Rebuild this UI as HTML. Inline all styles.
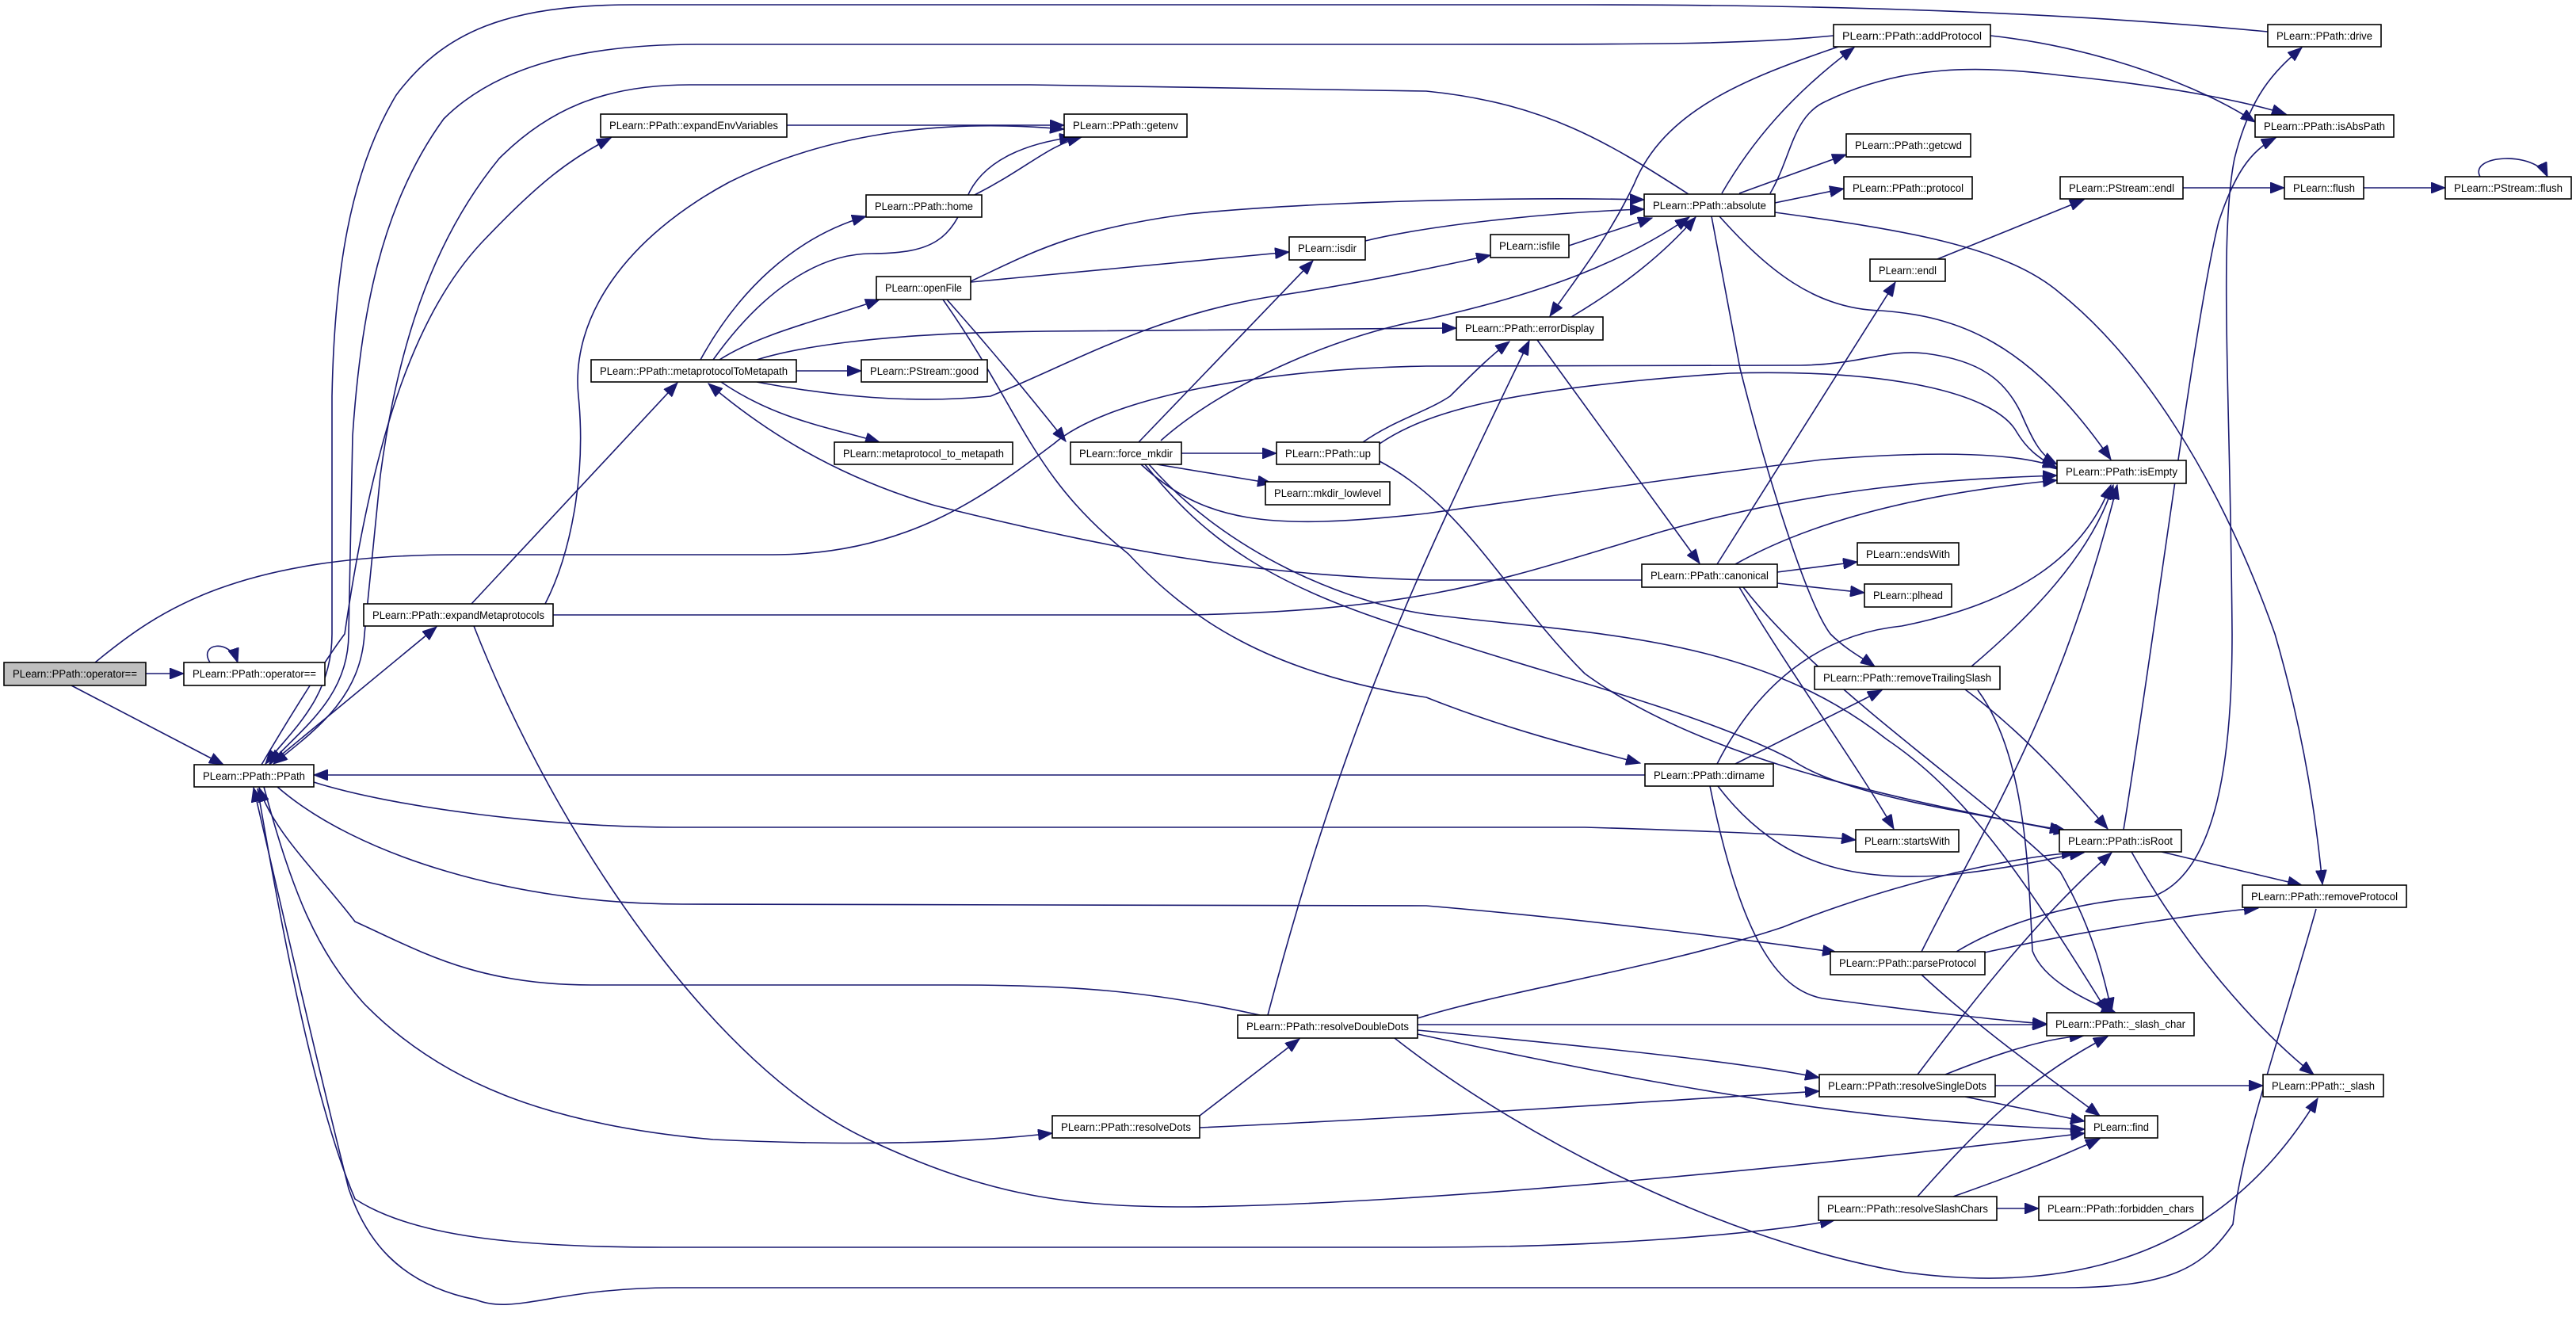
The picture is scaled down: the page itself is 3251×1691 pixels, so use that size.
<!DOCTYPE html>
<html><head><meta charset="utf-8"><style>
html,body{margin:0;padding:0;background:#fff;}
svg{display:block;}
text{font-family:"Liberation Sans",Arial,sans-serif;font-size:13.5px;fill:#000;}
.e{fill:none;stroke:#191970;stroke-width:1.6;}
rect{stroke:#000;stroke-width:1.6;fill:#fff;}
</style></head><body>
<svg width="3251" height="1691" viewBox="0 0 3251 1691" xmlns="http://www.w3.org/2000/svg">
<defs><marker id="a" markerUnits="userSpaceOnUse" markerWidth="20" markerHeight="14" refX="18" refY="7" orient="auto"><path d="M0,0 L18,7 L0,14 z" fill="#191970" stroke="#191970"/></marker></defs>
<g marker-end="url(#a)">
<path class="e" d="M184,850 L232,850"/>
<path class="e" d="M265,836 C250,812 290,805 300,836"/>
<path class="e" d="M90,865 L282,965"/>
<path class="e" d="M120,836 C200,770 300,700 580,700 L975,700 C1150,700 1250,620 1330,560 C1400,500 1600,465 1800,462 L2272,461 C2350,460 2380,440 2430,446 C2500,455 2530,480 2550,520 C2565,555 2575,575 2596,586"/>
<path class="e" d="M330,965 C380,880 420,820 435,800 C470,560 520,400 608,306 C680,230 720,200 771,174"/>
<path class="e" d="M340,965 L551,791"/>
<path class="e" d="M2862,40 C2600,15 2300,6 2000,6 L800,6 C640,6 560,40 500,120 C440,220 422,350 419,500 L419,800 C419,880 370,920 335,964"/>
<path class="e" d="M2314,45 C2200,56 2100,56 1800,56 L880,56 C720,56 620,90 560,150 C480,260 455,400 445,550 L440,800 C440,880 380,920 340,964"/>
<path class="e" d="M2131,245 C2030,180 1950,130 1800,115 L1300,107 L870,107 C760,107 690,140 630,200 C540,310 500,450 480,600 L460,800 C455,880 400,920 345,964"/>
<path class="e" d="M396,987 C500,1020 700,1044 850,1044 L2000,1044 C2200,1050 2300,1055 2342,1060"/>
<path class="e" d="M350,993 C450,1080 650,1141 861,1141 L1800,1143 C2000,1160 2200,1185 2318,1202"/>
<path class="e" d="M1590,1281 C1450,1250 1350,1243 1205,1243 L746,1243 C600,1243 530,1200 448,1163 C400,1100 345,1050 327,994"/>
<path class="e" d="M333,993 C370,1130 400,1200 459,1266 C560,1370 700,1420 900,1438 C1050,1445 1200,1445 1328,1430"/>
<path class="e" d="M325,995 C360,1200 400,1400 448,1513 C520,1560 650,1574 838,1574 L1800,1574 C2000,1574 2200,1560 2315,1540"/>
<path class="e" d="M2923,1147 C2880,1300 2830,1440 2818,1545 C2780,1600 2740,1625 2600,1625 L850,1625 C700,1625 650,1660 600,1640 C500,1620 460,1560 440,1500 C390,1300 345,1100 320,994"/>
<path class="e" d="M2076,978 L396,978"/>
<path class="e" d="M688,762 C720,700 740,600 730,500 C720,400 790,300 920,230 C1050,165 1200,150 1343,163"/>
<path class="e" d="M595,762 L855,483"/>
<path class="e" d="M698,776 L1500,776 C1800,770 1900,730 2100,670 C2300,615 2450,605 2596,600"/>
<path class="e" d="M993,158 L1343,158"/>
<path class="e" d="M884,454 C930,370 1000,300 1093,273"/>
<path class="e" d="M900,454 C960,370 1030,320 1100,320 C1180,320 1200,300 1220,250 C1240,200 1300,180 1355,173"/>
<path class="e" d="M1230,246 C1300,210 1320,185 1365,173"/>
<path class="e" d="M908,454 C960,420 1050,400 1110,378"/>
<path class="e" d="M1005,468 L1087,468"/>
<path class="e" d="M910,482 C980,530 1050,540 1110,558"/>
<path class="e" d="M955,454 C1000,440 1100,420 1322,418 L1838,414"/>
<path class="e" d="M955,482 C1050,500 1150,510 1250,500 C1350,460 1450,400 1600,375 C1700,360 1800,340 1881,322"/>
<path class="e" d="M1465,556 C1550,480 1700,420 1800,403 C1950,370 2050,330 2132,274"/>
<path class="e" d="M1437,558 L1657,329"/>
<path class="e" d="M1225,356 L1627,318"/>
<path class="e" d="M1225,355 C1300,320 1350,290 1500,270 C1650,255 1900,248 2075,252"/>
<path class="e" d="M1195,378 C1250,440 1300,500 1345,557"/>
<path class="e" d="M1190,378 C1290,520 1300,600 1424,699 C1500,780 1600,850 1800,880 C1900,920 2000,945 2070,963"/>
<path class="e" d="M1491,572 L1611,572"/>
<path class="e" d="M1460,586 L1605,610"/>
<path class="e" d="M1440,586 C1520,660 1600,670 1800,648 C2000,620 2100,605 2300,580 C2450,568 2550,572 2596,590"/>
<path class="e" d="M1445,586 C1520,680 1600,740 1800,800 C1950,850 2150,900 2260,958 C2320,1000 2450,1020 2605,1048"/>
<path class="e" d="M1450,586 C1550,700 1700,760 1800,775 C2000,800 2213,800 2381,933 C2480,1000 2550,1100 2660,1278"/>
<path class="e" d="M1720,558 C1760,530 1800,520 1830,500 C1860,470 1880,450 1905,431"/>
<path class="e" d="M1741,560 C1800,520 1900,490 2183,471 C2400,465 2520,500 2545,545 C2560,570 2575,578 2596,592"/>
<path class="e" d="M1741,582 C1850,640 1900,750 2000,850 C2150,960 2400,1010 2610,1050"/>
<path class="e" d="M2195,244 L2330,195"/>
<path class="e" d="M2240,256 L2327,238"/>
<path class="e" d="M2234,244 C2260,200 2262,150 2300,130 C2400,80 2500,83 2600,95 C2750,110 2840,130 2885,144"/>
<path class="e" d="M2173,244 C2210,180 2260,120 2340,60"/>
<path class="e" d="M2320,59 C2200,100 2100,140 2062,233 C2030,300 1990,350 1956,399"/>
<path class="e" d="M1983,400 C2050,360 2100,320 2140,274"/>
<path class="e" d="M1980,310 L2085,275"/>
<path class="e" d="M1723,304 C1800,285 1950,268 2075,264"/>
<path class="e" d="M2170,273 C2230,340 2290,390 2374,392 C2470,399 2560,430 2664,580"/>
<path class="e" d="M2240,268 C2400,290 2530,310 2600,370 C2700,450 2800,600 2871,800 C2900,900 2920,1000 2931,1116"/>
<path class="e" d="M2160,273 L2196,465 C2230,600 2280,760 2310,800 C2330,820 2350,830 2366,841"/>
<path class="e" d="M1940,429 L2145,711"/>
<path class="e" d="M2167,712 L2392,356"/>
<path class="e" d="M2445,327 L2630,252"/>
<path class="e" d="M2755,237 L2883,237"/>
<path class="e" d="M2983,237 L3086,237"/>
<path class="e" d="M3130,223 C3115,195 3200,190 3215,223"/>
<path class="e" d="M2190,712 C2300,650 2450,620 2596,606"/>
<path class="e" d="M2243,722 L2344,709"/>
<path class="e" d="M2243,736 L2353,748"/>
<path class="e" d="M2072,732 L1800,732 C1600,725 1450,705 1180,638 C1050,600 960,540 894,484"/>
<path class="e" d="M2195,741 C2260,850 2340,960 2390,1046"/>
<path class="e" d="M2200,741 C2300,870 2500,1000 2600,1100 C2640,1170 2655,1230 2665,1277"/>
<path class="e" d="M2167,964 C2220,860 2300,800 2400,790 C2550,760 2630,700 2664,612"/>
<path class="e" d="M2190,964 L2375,871"/>
<path class="e" d="M2168,992 C2250,1100 2350,1110 2450,1105 C2550,1095 2600,1080 2630,1076"/>
<path class="e" d="M2158,992 C2200,1200 2250,1250 2300,1260 C2450,1280 2550,1290 2583,1292"/>
<path class="e" d="M2488,841 C2560,780 2640,700 2667,612"/>
<path class="e" d="M2480,870 C2560,930 2620,1000 2660,1046"/>
<path class="e" d="M2496,871 C2557,953 2560,1100 2565,1200 C2580,1240 2640,1265 2670,1278"/>
<path class="e" d="M2680,1047 C2720,800 2770,400 2800,280 C2820,220 2840,190 2872,174"/>
<path class="e" d="M2728,1075 L2905,1117"/>
<path class="e" d="M2690,1075 C2760,1200 2850,1300 2920,1356"/>
<path class="e" d="M2425,1201 C2500,1050 2600,900 2672,612"/>
<path class="e" d="M2469,1201 C2520,1170 2600,1140 2718,1131 C2800,1100 2817,950 2817,800 C2815,500 2800,300 2820,200 C2840,120 2870,90 2905,60"/>
<path class="e" d="M2500,1203 C2650,1170 2800,1150 2850,1146"/>
<path class="e" d="M2425,1230 C2500,1300 2600,1370 2650,1408"/>
<path class="e" d="M2420,1356 C2500,1250 2580,1150 2665,1076"/>
<path class="e" d="M2455,1356 C2520,1330 2580,1310 2630,1307"/>
<path class="e" d="M2518,1370 L2856,1370"/>
<path class="e" d="M2480,1384 L2631,1415"/>
<path class="e" d="M1789,1300 C2000,1320 2200,1340 2296,1360"/>
<path class="e" d="M1789,1293 L2583,1293"/>
<path class="e" d="M1789,1285 C1900,1250 2100,1220 2250,1170 C2400,1110 2550,1080 2620,1076"/>
<path class="e" d="M1600,1281 C1700,900 1800,700 1930,430"/>
<path class="e" d="M1789,1305 C2000,1350 2200,1390 2400,1410 C2500,1420 2600,1425 2631,1425"/>
<path class="e" d="M1760,1310 C1900,1420 2150,1560 2400,1605 C2650,1640 2820,1560 2925,1386"/>
<path class="e" d="M1514,1408 L1640,1311"/>
<path class="e" d="M1514,1423 C1800,1410 2000,1395 2296,1377"/>
<path class="e" d="M2420,1510 C2500,1420 2560,1360 2660,1308"/>
<path class="e" d="M2465,1510 C2550,1480 2600,1460 2650,1437"/>
<path class="e" d="M2520,1525 L2573,1525"/>
<path class="e" d="M598,790 C700,1050 900,1350 1100,1440 C1250,1510 1350,1523 1500,1523 C1800,1520 2300,1470 2631,1430"/>
<path class="e" d="M2512,45 C2650,60 2780,110 2846,154"/>
</g>
<g>
<rect x="5" y="836" width="179" height="29" style="fill:#bfbfbf"/><text x="94.5" y="855" text-anchor="middle" textLength="157" lengthAdjust="spacingAndGlyphs">PLearn::PPath::operator==</text>
<rect x="232" y="836" width="178" height="29"/><text x="321" y="855" text-anchor="middle" textLength="156" lengthAdjust="spacingAndGlyphs">PLearn::PPath::operator==</text>
<rect x="245" y="965" width="151" height="28"/><text x="320.5" y="984" text-anchor="middle" textLength="129" lengthAdjust="spacingAndGlyphs">PLearn::PPath::PPath</text>
<rect x="758" y="144" width="235" height="29"/><text x="875.5" y="163" text-anchor="middle" textLength="213" lengthAdjust="spacingAndGlyphs">PLearn::PPath::expandEnvVariables</text>
<rect x="1343" y="144" width="155" height="29"/><text x="1420.5" y="163" text-anchor="middle" textLength="133" lengthAdjust="spacingAndGlyphs">PLearn::PPath::getenv</text>
<rect x="1093" y="246" width="146" height="28"/><text x="1166" y="265" text-anchor="middle" textLength="124" lengthAdjust="spacingAndGlyphs">PLearn::PPath::home</text>
<rect x="1106" y="349" width="119" height="29"/><text x="1165.5" y="368" text-anchor="middle" textLength="97" lengthAdjust="spacingAndGlyphs">PLearn::openFile</text>
<rect x="1627" y="299" width="96" height="29"/><text x="1675" y="318" text-anchor="middle" textLength="74" lengthAdjust="spacingAndGlyphs">PLearn::isdir</text>
<rect x="746" y="454" width="259" height="28"/><text x="875.5" y="473" text-anchor="middle" textLength="237" lengthAdjust="spacingAndGlyphs">PLearn::PPath::metaprotocolToMetapath</text>
<rect x="1087" y="454" width="159" height="28"/><text x="1166.5" y="473" text-anchor="middle" textLength="137" lengthAdjust="spacingAndGlyphs">PLearn::PStream::good</text>
<rect x="1053" y="558" width="225" height="28"/><text x="1165.5" y="577" text-anchor="middle" textLength="203" lengthAdjust="spacingAndGlyphs">PLearn::metaprotocol_to_metapath</text>
<rect x="1351" y="558" width="140" height="28"/><text x="1421" y="577" text-anchor="middle" textLength="118" lengthAdjust="spacingAndGlyphs">PLearn::force_mkdir</text>
<rect x="1611" y="558" width="130" height="28"/><text x="1676" y="577" text-anchor="middle" textLength="108" lengthAdjust="spacingAndGlyphs">PLearn::PPath::up</text>
<rect x="1597" y="608" width="157" height="29"/><text x="1675.5" y="627" text-anchor="middle" textLength="135" lengthAdjust="spacingAndGlyphs">PLearn::mkdir_lowlevel</text>
<rect x="459" y="762" width="239" height="28"/><text x="578.5" y="781" text-anchor="middle" textLength="217" lengthAdjust="spacingAndGlyphs">PLearn::PPath::expandMetaprotocols</text>
<rect x="1881" y="296" width="99" height="29"/><text x="1930.5" y="315" text-anchor="middle" textLength="77" lengthAdjust="spacingAndGlyphs">PLearn::isfile</text>
<rect x="1838" y="400" width="185" height="29"/><text x="1930.5" y="419" text-anchor="middle" textLength="163" lengthAdjust="spacingAndGlyphs">PLearn::PPath::errorDisplay</text>
<rect x="2075" y="245" width="165" height="28"/><text x="2157.5" y="264" text-anchor="middle" textLength="143" lengthAdjust="spacingAndGlyphs">PLearn::PPath::absolute</text>
<rect x="2314" y="31" width="198" height="28"/><text x="2413" y="50" text-anchor="middle" textLength="176" lengthAdjust="spacingAndGlyphs">PLearn::PPath::addProtocol</text>
<rect x="2330" y="169" width="157" height="29"/><text x="2408.5" y="188" text-anchor="middle" textLength="135" lengthAdjust="spacingAndGlyphs">PLearn::PPath::getcwd</text>
<rect x="2327" y="223" width="162" height="28"/><text x="2408" y="242" text-anchor="middle" textLength="140" lengthAdjust="spacingAndGlyphs">PLearn::PPath::protocol</text>
<rect x="2600" y="223" width="155" height="28"/><text x="2677.5" y="242" text-anchor="middle" textLength="133" lengthAdjust="spacingAndGlyphs">PLearn::PStream::endl</text>
<rect x="2360" y="327" width="95" height="28"/><text x="2407.5" y="346" text-anchor="middle" textLength="73" lengthAdjust="spacingAndGlyphs">PLearn::endl</text>
<rect x="2596" y="581" width="163" height="29"/><text x="2677.5" y="600" text-anchor="middle" textLength="141" lengthAdjust="spacingAndGlyphs">PLearn::PPath::isEmpty</text>
<rect x="2344" y="685" width="128" height="28"/><text x="2408" y="704" text-anchor="middle" textLength="106" lengthAdjust="spacingAndGlyphs">PLearn::endsWith</text>
<rect x="2072" y="712" width="171" height="29"/><text x="2157.5" y="731" text-anchor="middle" textLength="149" lengthAdjust="spacingAndGlyphs">PLearn::PPath::canonical</text>
<rect x="2353" y="737" width="110" height="29"/><text x="2408" y="756" text-anchor="middle" textLength="88" lengthAdjust="spacingAndGlyphs">PLearn::plhead</text>
<rect x="2290" y="841" width="234" height="29"/><text x="2407" y="860" text-anchor="middle" textLength="212" lengthAdjust="spacingAndGlyphs">PLearn::PPath::removeTrailingSlash</text>
<rect x="2076" y="964" width="162" height="28"/><text x="2157" y="983" text-anchor="middle" textLength="140" lengthAdjust="spacingAndGlyphs">PLearn::PPath::dirname</text>
<rect x="2342" y="1047" width="130" height="28"/><text x="2407" y="1066" text-anchor="middle" textLength="108" lengthAdjust="spacingAndGlyphs">PLearn::startsWith</text>
<rect x="2599" y="1047" width="154" height="28"/><text x="2676" y="1066" text-anchor="middle" textLength="132" lengthAdjust="spacingAndGlyphs">PLearn::PPath::isRoot</text>
<rect x="2830" y="1117" width="207" height="28"/><text x="2933.5" y="1136" text-anchor="middle" textLength="185" lengthAdjust="spacingAndGlyphs">PLearn::PPath::removeProtocol</text>
<rect x="2310" y="1201" width="195" height="29"/><text x="2407.5" y="1220" text-anchor="middle" textLength="173" lengthAdjust="spacingAndGlyphs">PLearn::PPath::parseProtocol</text>
<rect x="2583" y="1278" width="186" height="29"/><text x="2676" y="1297" text-anchor="middle" textLength="164" lengthAdjust="spacingAndGlyphs">PLearn::PPath::_slash_char</text>
<rect x="2296" y="1356" width="222" height="28"/><text x="2407" y="1375" text-anchor="middle" textLength="200" lengthAdjust="spacingAndGlyphs">PLearn::PPath::resolveSingleDots</text>
<rect x="2856" y="1356" width="152" height="28"/><text x="2932" y="1375" text-anchor="middle" textLength="130" lengthAdjust="spacingAndGlyphs">PLearn::PPath::_slash</text>
<rect x="2631" y="1408" width="92" height="28"/><text x="2677" y="1427" text-anchor="middle" textLength="70" lengthAdjust="spacingAndGlyphs">PLearn::find</text>
<rect x="2295" y="1510" width="225" height="30"/><text x="2407.5" y="1530" text-anchor="middle" textLength="203" lengthAdjust="spacingAndGlyphs">PLearn::PPath::resolveSlashChars</text>
<rect x="2573" y="1510" width="207" height="30"/><text x="2676.5" y="1530" text-anchor="middle" textLength="185" lengthAdjust="spacingAndGlyphs">PLearn::PPath::forbidden_chars</text>
<rect x="1562" y="1281" width="227" height="29"/><text x="1675.5" y="1300" text-anchor="middle" textLength="205" lengthAdjust="spacingAndGlyphs">PLearn::PPath::resolveDoubleDots</text>
<rect x="1328" y="1408" width="186" height="28"/><text x="1421" y="1427" text-anchor="middle" textLength="164" lengthAdjust="spacingAndGlyphs">PLearn::PPath::resolveDots</text>
<rect x="2862" y="31" width="143" height="28"/><text x="2933.5" y="50" text-anchor="middle" textLength="121" lengthAdjust="spacingAndGlyphs">PLearn::PPath::drive</text>
<rect x="2846" y="145" width="175" height="28"/><text x="2933.5" y="164" text-anchor="middle" textLength="153" lengthAdjust="spacingAndGlyphs">PLearn::PPath::isAbsPath</text>
<rect x="2883" y="223" width="100" height="28"/><text x="2933" y="242" text-anchor="middle" textLength="78" lengthAdjust="spacingAndGlyphs">PLearn::flush</text>
<rect x="3086" y="223" width="159" height="28"/><text x="3165.5" y="242" text-anchor="middle" textLength="137" lengthAdjust="spacingAndGlyphs">PLearn::PStream::flush</text>
</g>
</svg>
</body></html>
